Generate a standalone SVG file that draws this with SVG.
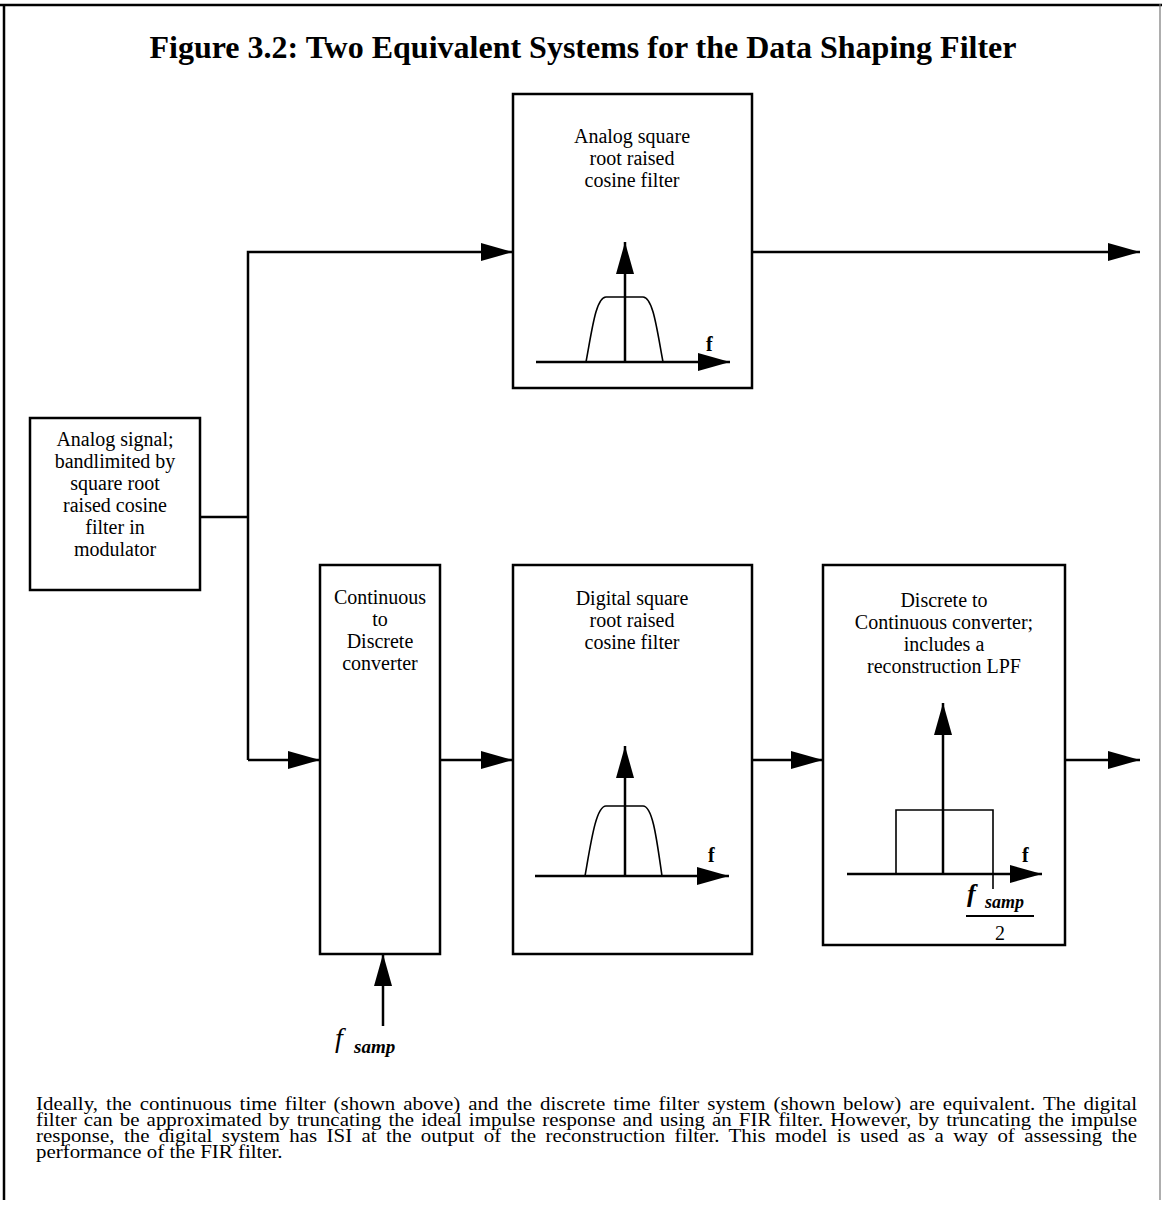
<svg xmlns="http://www.w3.org/2000/svg" width="1162" height="1205" viewBox="0 0 1162 1205">
  <style>
    .box { fill: #fff; stroke: #000; stroke-width: 2.5; }
    .wire { fill: none; stroke: #000; stroke-width: 2.5; }
    .axis { fill: none; stroke: #000; stroke-width: 2.5; }
    .curve { fill: none; stroke: #000; stroke-width: 1.6; }
    .lbl { font-family: "Liberation Serif", "Times New Roman", serif; font-size: 20px; text-anchor: middle; fill: #000; }
    .title { font-family: "Liberation Serif", "Times New Roman", serif; font-size: 32px; font-weight: bold; text-anchor: middle; fill: #000; }
    .para { font-family: "Liberation Serif", "Times New Roman", serif; font-size: 19px; fill: #000; }
    .fvar { font-family: "Liberation Serif", "Times New Roman", serif; font-style: italic; fill: #000; }
    .fax { font-family: "Liberation Serif", "Times New Roman", serif; font-size: 20px; font-weight: bold; fill: #000; }
  </style>
  <defs>
    <marker id="arrow" markerUnits="userSpaceOnUse" markerWidth="32" markerHeight="18" refX="32" refY="9" orient="auto">
      <path d="M0,0 L32,9 L0,18 z" fill="#000"/>
    </marker>
  </defs>

  <rect width="1162" height="1205" fill="#fff"/>

  <!-- page frame -->
  <g id="frame">
    <line x1="0" y1="5" x2="1162" y2="5" stroke="#000" stroke-width="2.5"/>
    <line x1="4" y1="4" x2="4" y2="1200" stroke="#000" stroke-width="2.5"/>
    <line x1="1160" y1="4" x2="1160" y2="1200" stroke="#777" stroke-width="1.2"/>
  </g>

  <text class="title" x="583" y="58">Figure 3.2: Two Equivalent Systems for the Data Shaping Filter</text>

  <!-- signal paths -->
  <g id="connectors">
    <path class="wire" d="M200,517 H248"/>
    <path class="wire" d="M248,760 V252 H513" marker-end="url(#arrow)"/>
    <path class="wire" d="M248,760 H320" marker-end="url(#arrow)"/>
    <path class="wire" d="M752,252 H1140" marker-end="url(#arrow)"/>
    <path class="wire" d="M440,760 H513" marker-end="url(#arrow)"/>
    <path class="wire" d="M752,760 H823" marker-end="url(#arrow)"/>
    <path class="wire" d="M1065,760 H1140" marker-end="url(#arrow)"/>
    <path class="wire" d="M383,1026 V954" marker-end="url(#arrow)"/>
  </g>

  <g id="source">
    <rect class="box" x="30" y="418" width="170" height="172"/>
    <text class="lbl" x="115" y="446">Analog signal;</text>
    <text class="lbl" x="115" y="468">bandlimited by</text>
    <text class="lbl" x="115" y="490">square root</text>
    <text class="lbl" x="115" y="512">raised cosine</text>
    <text class="lbl" x="115" y="534">filter in</text>
    <text class="lbl" x="115" y="556">modulator</text>
  </g>

  <g id="analog-filter">
    <rect class="box" x="513" y="94" width="239" height="294"/>
    <text class="lbl" x="632" y="143">Analog square</text>
    <text class="lbl" x="632" y="165">root raised</text>
    <text class="lbl" x="632" y="187">cosine filter</text>
    <path class="axis" d="M536,362 H730" marker-end="url(#arrow)"/>
    <path class="axis" d="M625,362 V242" marker-end="url(#arrow)"/>
    <path class="curve" d="M586,362 C592,330 596,297 606,297 H643 C653,297 657,330 663,362"/>
    <text class="fax" x="706" y="351">f</text>
  </g>

  <g id="c-to-d">
    <rect class="box" x="320" y="565" width="120" height="389"/>
    <text class="lbl" x="380" y="604">Continuous</text>
    <text class="lbl" x="380" y="626">to</text>
    <text class="lbl" x="380" y="648">Discrete</text>
    <text class="lbl" x="380" y="670">converter</text>
  </g>

  <g id="fsamp-input">
    <text class="fvar" x="335" y="1047" font-size="28">f</text>
    <text class="fvar" x="354" y="1053" font-size="19" font-weight="bold">samp</text>
  </g>

  <g id="digital-filter">
    <rect class="box" x="513" y="565" width="239" height="389"/>
    <text class="lbl" x="632" y="605">Digital square</text>
    <text class="lbl" x="632" y="627">root raised</text>
    <text class="lbl" x="632" y="649">cosine filter</text>
    <path class="axis" d="M535,876 H729" marker-end="url(#arrow)"/>
    <path class="axis" d="M625,876 V746" marker-end="url(#arrow)"/>
    <path class="curve" d="M585,876 C591,842 596,806 606,806 H643 C653,806 657,842 662,876"/>
    <text class="fax" x="708" y="862">f</text>
  </g>

  <g id="d-to-c">
    <rect class="box" x="823" y="565" width="242" height="380"/>
    <text class="lbl" x="944" y="607">Discrete to</text>
    <text class="lbl" x="944" y="629">Continuous converter;</text>
    <text class="lbl" x="944" y="651">includes a</text>
    <text class="lbl" x="944" y="673">reconstruction LPF</text>
    <path class="axis" d="M847,874 H1042" marker-end="url(#arrow)"/>
    <path class="axis" d="M943,874 V703" marker-end="url(#arrow)"/>
    <path class="curve" stroke-width="2" d="M896,874 V810 H993 V889"/>
    <text class="fax" x="1022" y="862">f</text>
    <text class="fvar" x="967" y="902" font-size="26" font-weight="bold">f</text>
    <text class="fvar" x="985" y="908" font-size="18" font-weight="bold">samp</text>
    <line x1="966" y1="916" x2="1034" y2="916" stroke="#000" stroke-width="2"/>
    <text class="lbl" x="1000" y="940" font-size="22">2</text>
  </g>

  <!-- justified caption, slightly widened type -->
  <g id="caption" transform="translate(36,0) scale(1.1,1)">
    <text class="para" x="0" y="1110" word-spacing="2.5" textLength="1001" lengthAdjust="spacing">Ideally, the continuous time filter (shown above) and the discrete time filter system (shown below) are equivalent. The digital</text>
    <text class="para" x="0" y="1126" word-spacing="1.6" textLength="1001" lengthAdjust="spacing">filter can be approximated by truncating the ideal impulse response and using an FIR filter. However, by truncating the impulse</text>
    <text class="para" x="0" y="1142" word-spacing="3.7" textLength="1001" lengthAdjust="spacing">response, the digital system has ISI at the output of the reconstruction filter. This model is used as a way of assessing the</text>
    <text class="para" x="0" y="1158">performance of the FIR filter.</text>
  </g>
</svg>
